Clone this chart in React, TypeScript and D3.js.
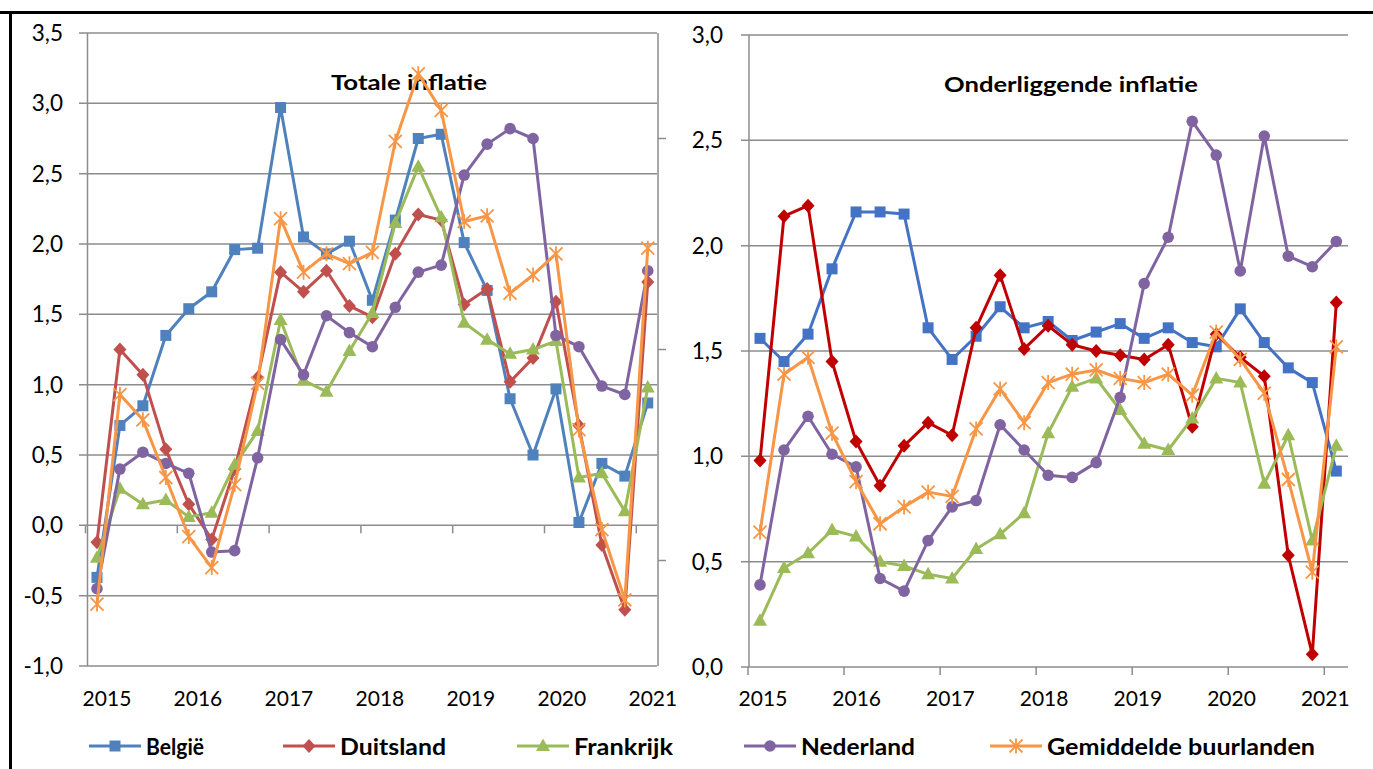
import React from 'react';
import * as d3 from 'd3';

// ---------- DATA ----------
const years = [2015, 2016, 2017, 2018, 2019, 2020, 2021];
const totalTicks = [-1, -0.5, 0, 0.5, 1, 1.5, 2, 2.5, 3, 3.5];
const coreTicks = [0, 0.5, 1, 1.5, 2, 2.5, 3];

const seriesNames = ['België', 'Duitsland', 'Frankrijk', 'Nederland', 'Gemiddelde buurlanden'];

// Totale inflatie (quarterly, 2015Q1 .. 2021Q1)
const totalBE = [-0.37, 0.71, 0.85, 1.35, 1.54, 1.66, 1.96, 1.97, 2.97, 2.05, 1.93, 2.02, 1.6, 2.17, 2.75, 2.78, 2.01, 1.67, 0.9, 0.5, 0.97, 0.02, 0.44, 0.35, 0.87];
const totalDE = [-0.12, 1.25, 1.07, 0.54, 0.15, -0.1, 0.4, 1.05, 1.8, 1.66, 1.81, 1.56, 1.48, 1.93, 2.21, 2.17, 1.57, 1.68, 1.02, 1.19, 1.59, 0.71, -0.14, -0.6, 1.73];
const totalFR = [-0.23, 0.26, 0.15, 0.18, 0.06, 0.09, 0.43, 0.67, 1.46, 1.03, 0.95, 1.24, 1.51, 2.15, 2.55, 2.19, 1.44, 1.32, 1.22, 1.25, 1.31, 0.34, 0.37, 0.1, 0.98];
const totalNL = [-0.45, 0.4, 0.52, 0.44, 0.37, -0.19, -0.18, 0.48, 1.32, 1.07, 1.49, 1.37, 1.27, 1.55, 1.8, 1.85, 2.49, 2.71, 2.82, 2.75, 1.35, 1.27, 0.99, 0.93, 1.81];
const totalAVG = [-0.56, 0.93, 0.75, 0.34, -0.08, -0.3, 0.29, 1.01, 2.18, 1.8, 1.93, 1.86, 1.94, 2.73, 3.21, 2.95, 2.16, 2.2, 1.65, 1.78, 1.93, 0.68, -0.03, -0.53, 1.97];

// Onderliggende inflatie (quarterly, 2015Q1 .. 2021Q1)
const coreBE = [1.56, 1.45, 1.58, 1.89, 2.16, 2.16, 2.15, 1.61, 1.46, 1.57, 1.71, 1.61, 1.64, 1.55, 1.59, 1.63, 1.56, 1.61, 1.54, 1.52, 1.7, 1.54, 1.42, 1.35, 0.93];
const coreDE = [0.98, 2.14, 2.19, 1.45, 1.07, 0.86, 1.05, 1.16, 1.1, 1.61, 1.86, 1.51, 1.62, 1.53, 1.5, 1.48, 1.46, 1.53, 1.14, 1.58, 1.47, 1.38, 0.53, 0.06, 1.73];
const coreFR = [0.22, 0.47, 0.54, 0.65, 0.62, 0.5, 0.48, 0.44, 0.42, 0.56, 0.63, 0.73, 1.11, 1.33, 1.37, 1.22, 1.06, 1.03, 1.18, 1.37, 1.35, 0.87, 1.1, 0.6, 1.05];
const coreNL = [0.39, 1.03, 1.19, 1.01, 0.95, 0.42, 0.36, 0.6, 0.76, 0.79, 1.15, 1.03, 0.91, 0.9, 0.97, 1.28, 1.82, 2.04, 2.59, 2.43, 1.88, 2.52, 1.95, 1.9, 2.02];
const coreAVG = [0.64, 1.39, 1.47, 1.11, 0.88, 0.68, 0.76, 0.83, 0.81, 1.13, 1.32, 1.16, 1.35, 1.39, 1.41, 1.37, 1.35, 1.39, 1.29, 1.59, 1.46, 1.3, 0.89, 0.45, 1.52];

// ---------- STYLE ----------
const markers = ['square', 'diamond', 'triangle', 'circle', 'star'];
const leftColors = ['#4F81BD', '#C0504D', '#9BBB59', '#8064A2', '#F79646'];
const rightColors = ['#4472C4', '#C00000', '#9BBB59', '#8064A2', '#F79646'];
const GRID = '#8C8C8C';
const FONT = 'Lato, "Open Sans", sans-serif';

const qTime = (i: number) => 2015 + (i + 0.5) / 4;
const fmt = (v: number) => v.toFixed(1).replace('.', ',');

function Marker({ type, x, y, color }: { type: string; x: number; y: number; color: string }) {
  if (type === 'square') return <rect x={x - 5.5} y={y - 5.5} width={11} height={11} fill={color} />;
  if (type === 'diamond') return <path d={`M${x},${y - 7}L${x + 6.5},${y}L${x},${y + 7}L${x - 6.5},${y}Z`} fill={color} />;
  if (type === 'triangle') return <path d={`M${x},${y - 7.5}L${x + 7},${y + 5}L${x - 7},${y + 5}Z`} fill={color} />;
  if (type === 'circle') return <circle cx={x} cy={y} r={5.8} fill={color} />;
  const s = 6.5;
  return (
    <path
      d={`M${x - s},${y - s}L${x + s},${y + s}M${x - s},${y + s}L${x + s},${y - s}M${x},${y - s - 1}L${x},${y + s + 1}`}
      stroke={color}
      strokeWidth={1.8}
      fill="none"
    />
  );
}

type PanelProps = {
  data: number[][];
  colors: string[];
  xRange: [number, number];
  yDomain: [number, number];
  yRange: [number, number];
  yTicks: number[];
  axisX: number;
  gridX0: number;
  gridX1: number;
  yLabelX: number;
  labelSpan: [number, number];
  title: string;
  titleX: number;
  titleY: number;
  titleLen: number;
  secondary?: number;
};

function Panel(p: PanelProps) {
  const x = d3.scaleLinear().domain([2015, 2021]).range(p.xRange);
  const y = d3.scaleLinear().domain(p.yDomain).range(p.yRange);
  const labelX = d3.scaleLinear().domain([2015, 2021]).range([x(p.labelSpan[0]), x(p.labelSpan[1])]);
  const line = d3
    .line<number>()
    .x((_, i) => x(qTime(i)))
    .y((d) => y(d));
  const y0 = y(0);
  const sec = d3.scaleLinear().domain([0, 3]).range(p.yRange);
  return (
    <g>
      {p.yTicks.map((t) => (
        <line key={'g' + t} x1={p.gridX0} x2={p.gridX1} y1={y(t)} y2={y(t)} stroke={GRID} strokeWidth={1.5} />
      ))}
      <line x1={p.axisX} x2={p.axisX} y1={p.yRange[1]} y2={p.yRange[0]} stroke={GRID} strokeWidth={1.5} />
      {p.secondary !== undefined && (
        <g>
          <line x1={p.secondary} x2={p.secondary} y1={p.yRange[1]} y2={p.yRange[0]} stroke={GRID} strokeWidth={1.5} />
          {[0.5, 1.5, 2.5].map((t) => (
            <line key={'s' + t} x1={p.secondary} x2={p.secondary! + 8} y1={sec(t)} y2={sec(t)} stroke={GRID} strokeWidth={1.5} />
          ))}
        </g>
      )}
      {years.map((yr) => (
        <line key={'t' + yr} x1={x(yr)} x2={x(yr)} y1={y0} y2={y0 + 8} stroke={GRID} strokeWidth={1.5} />
      ))}
      {p.yTicks.map((t) => (
        <text key={'l' + t} x={p.yLabelX} y={y(t)} dy="0.36em" textAnchor="end" fontSize={22.5} fontFamily={FONT} fill="#000">
          {fmt(t)}
        </text>
      ))}
      {years.map((yr) => (
        <text key={'x' + yr} x={labelX(yr)} y={706} textAnchor="middle" fontSize={21} fontFamily={FONT} fill="#000">
          {yr}
        </text>
      ))}
      <text
        x={p.titleX}
        y={p.titleY}
        textAnchor="middle"
        fontSize={21}
        fontWeight="bold"
        fontFamily={FONT}
        textLength={p.titleLen}
        lengthAdjust="spacingAndGlyphs"
      >
        {p.title}
      </text>
      {p.data.map((vals, si) => (
        <g key={'s' + si}>
          <path d={line(vals) || ''} fill="none" stroke={p.colors[si]} strokeWidth={3} strokeLinejoin="round" />
          {vals.map((v, i) => (
            <Marker key={i} type={markers[si]} x={x(qTime(i))} y={y(v)} color={p.colors[si]} />
          ))}
        </g>
      ))}
    </g>
  );
}

const legendX = [89, 283, 517, 744, 990];
const legendTextLen = [58, 106, 99, 114, 268];

export default function App() {
  return (
    <svg
      width={1373}
      height={769}
      style={{ position: 'absolute', left: 0, top: 0, background: '#fff' }}
      xmlns="http://www.w3.org/2000/svg"
    >
      <rect x={0} y={0} width={1373} height={769} fill="#fff" />
      <Panel
        data={[totalBE, totalDE, totalFR, totalNL, totalAVG]}
        colors={leftColors}
        xRange={[85.5, 636.3]}
        yDomain={[-1, 3.5]}
        yRange={[666, 33]}
        yTicks={totalTicks}
        axisX={87.5}
        gridX0={79}
        gridX1={657}
        yLabelX={63}
        labelSpan={[2015.234, 2021.18]}
        title="Totale inflatie"
        titleX={409}
        titleY={90}
        titleLen={156}
        secondary={658}
      />
      <Panel
        data={[coreBE, coreDE, coreFR, coreNL, coreAVG]}
        colors={rightColors}
        xRange={[748, 1324.3]}
        yDomain={[0, 3]}
        yRange={[667, 35]}
        yTicks={coreTicks}
        axisX={749}
        gridX0={741}
        gridX1={1348}
        yLabelX={723}
        labelSpan={[2015.156, 2021.01]}
        title="Onderliggende inflatie"
        titleX={1071}
        titleY={92}
        titleLen={254}
      />
      {/* frame */}
      <rect x={0} y={11} width={1373} height={3} fill="#000" />
      <rect x={9} y={11} width={3} height={758} fill="#000" />
      {/* legend */}
      {seriesNames.map((n, i) => (
        <g key={n}>
          <line x1={legendX[i]} x2={legendX[i] + 52} y1={746} y2={746} stroke={leftColors[i]} strokeWidth={3} />
          <Marker type={markers[i]} x={legendX[i] + 26} y={746} color={leftColors[i]} />
          <text
            x={legendX[i] + 57}
            y={755}
            fontSize={22}
            fontWeight="bold"
            fontFamily={FONT}
            textLength={legendTextLen[i]}
            lengthAdjust="spacingAndGlyphs"
          >
            {n}
          </text>
        </g>
      ))}
    </svg>
  );
}
